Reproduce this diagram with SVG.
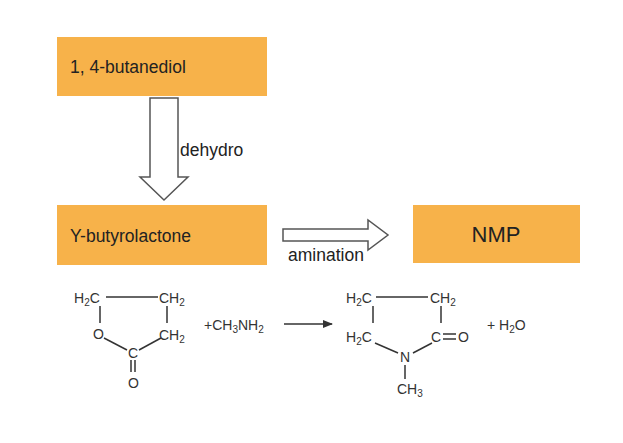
<svg xmlns="http://www.w3.org/2000/svg" width="623" height="443" viewBox="0 0 623 443">
<style>
.box{fill:#F7B24A}
.t{font-family:"Liberation Sans",Arial,sans-serif;fill:#222}
.c{font-family:"Liberation Sans",Arial,sans-serif;fill:#333;font-size:14px}
.b{stroke:#333;stroke-width:1.5;fill:none}
.h{fill:#fff;stroke:#555;stroke-width:1.5}
</style>
<defs><marker id="ah" markerWidth="10" markerHeight="8" refX="9" refY="4" orient="auto" markerUnits="userSpaceOnUse"><path d="M0,0 L10,4 L0,8 z" fill="#333"/></marker></defs>
<rect width="623" height="443" fill="#fff"/>
<g id="n1"><rect class="box" x="57" y="37" width="210" height="59"/><text class="t" x="70" y="73" font-size="17.5">1, 4-butanediol</text></g>
<g id="n2"><rect class="box" x="57" y="205" width="210" height="60"/><text class="t" x="70" y="242" font-size="17.5">Y-butyrolactone</text></g>
<g id="n3"><rect class="box" x="413" y="205" width="167" height="58"/><text class="t" x="496" y="242" font-size="22" text-anchor="middle" fill="#333">NMP</text></g>
<g id="connectors">
<path class="h" d="M150,98 H178 V177 H188 L164,200 L140,177 H150 Z"/>
<text class="t" x="180" y="156" font-size="17.5">dehydro</text>
<path class="h" d="M283,229 H368 V220 L388,235 L368,250 V241 H283 Z"/>
<text class="t" x="288" y="261" font-size="17.5">amination</text>
</g>
<g id="reaction">
<text class="c" x="74" y="303">H<tspan font-size="10" dy="3">2</tspan><tspan dy="-3">C</tspan></text>
<line class="b" x1="106" y1="297" x2="158" y2="297"/>
<text class="c" x="159" y="303">CH<tspan font-size="10" dy="3">2</tspan></text>
<line class="b" x1="100" y1="306" x2="100" y2="323"/>
<line class="b" x1="167" y1="306" x2="167" y2="323"/>
<text class="c" x="93" y="339">O</text>
<text class="c" x="159" y="340">CH<tspan font-size="10" dy="3">2</tspan></text>
<line class="b" x1="104" y1="338" x2="127" y2="350"/>
<line class="b" x1="161" y1="338" x2="139" y2="350"/>
<text class="c" x="128" y="358">C</text>
<line class="b" x1="131" y1="360" x2="131" y2="372"/>
<line class="b" x1="135" y1="360" x2="135" y2="372"/>
<text class="c" x="128" y="388">O</text>
<text class="c" x="204" y="330">+CH<tspan font-size="10" dy="3">3</tspan><tspan dy="-3">NH</tspan><tspan font-size="10" dy="3">2</tspan></text>
<line x1="284" y1="324" x2="332" y2="324" stroke="#333" stroke-width="1.5" marker-end="url(#ah)"/>
<text class="c" x="346" y="303">H<tspan font-size="10" dy="3">2</tspan><tspan dy="-3">C</tspan></text>
<line class="b" x1="376" y1="297" x2="428" y2="297"/>
<text class="c" x="430" y="303">CH<tspan font-size="10" dy="3">2</tspan></text>
<line class="b" x1="373" y1="306" x2="373" y2="323"/>
<line class="b" x1="441" y1="306" x2="441" y2="323"/>
<text class="c" x="346" y="342">H<tspan font-size="10" dy="3">2</tspan><tspan dy="-3">C</tspan></text>
<text class="c" x="431" y="342">C</text>
<line class="b" x1="443" y1="334" x2="456" y2="334"/>
<line class="b" x1="443" y1="339" x2="456" y2="339"/>
<text class="c" x="458" y="342">O</text>
<line class="b" x1="375" y1="343" x2="398" y2="353"/>
<line class="b" x1="432" y1="343" x2="413" y2="353"/>
<text class="c" x="400" y="362">N</text>
<line class="b" x1="405" y1="365" x2="405" y2="379"/>
<text class="c" x="397" y="394">CH<tspan font-size="10" dy="3">3</tspan></text>
<text class="c" x="487" y="330">+ H<tspan font-size="10" dy="3">2</tspan><tspan dy="-3">O</tspan></text>
</g>
</svg>
